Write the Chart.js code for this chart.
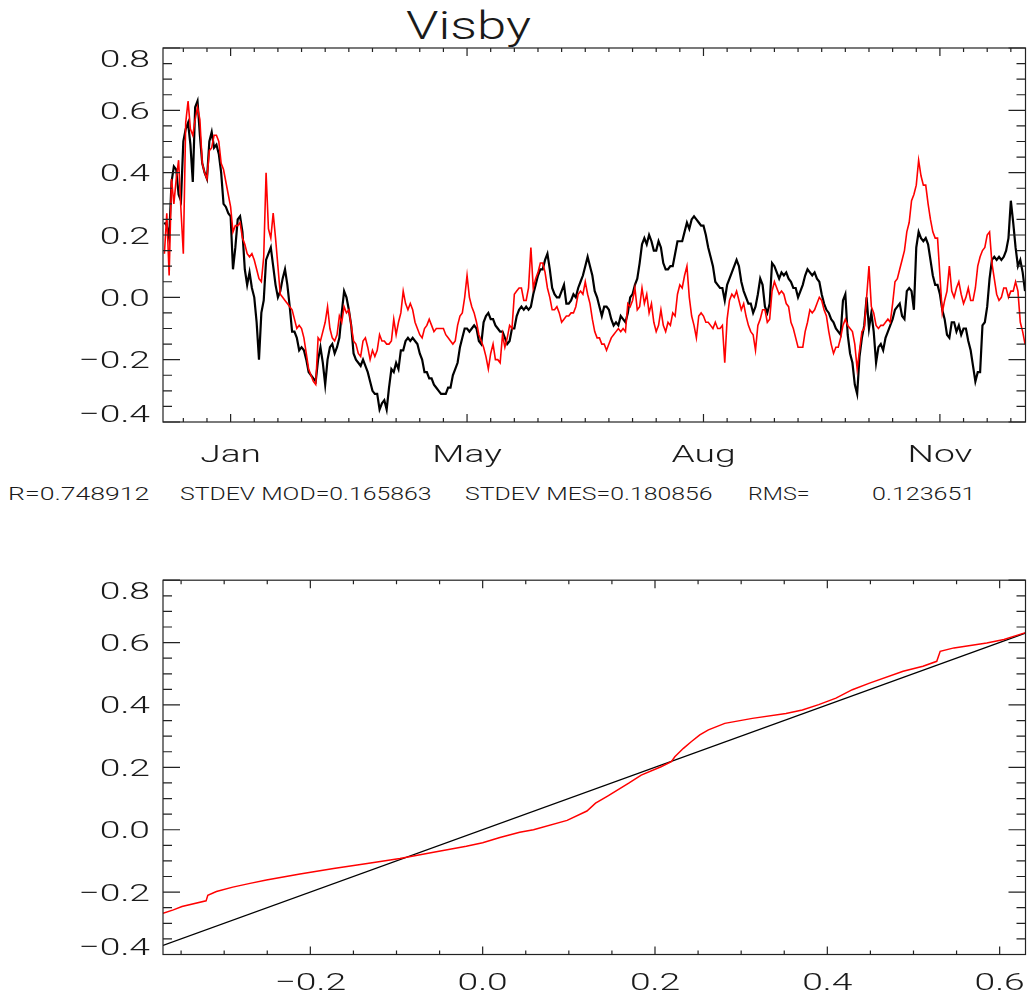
<!DOCTYPE html>
<html>
<head>
<meta charset="utf-8">
<title>Visby</title>
<script src="https://cdn.jsdelivr.net/npm/chart.js@4.4.1/dist/chart.umd.min.js"></script>
<style>
  body { margin: 0; background: #fff; width: 1027px; height: 1000px; position: relative; overflow: hidden; }
  canvas { position: absolute; left: 0; }
  #topChart { top: 0; }
  #qqChart { top: 540px; }
  .txt {
    position: absolute;
    white-space: nowrap;
    color: #1a1a1a;
    font-family: Roboto, "DejaVu Sans", sans-serif;
    font-weight: 300;
    transform-origin: left top;
  }
  #title { font-size: 39px; line-height: 39px; top: 7px; }
  .stat { font-size: 18px; line-height: 18px; top: 485px; }
</style>
</head>
<body>
<div id="title" class="txt">Visby</div>
<canvas id="topChart" width="1027" height="480"></canvas>
<div id="stats"></div>
<canvas id="qqChart" width="1027" height="460"></canvas>

<script>
// days counted from the "Jan" tick, one reading per day
const firstDay = -28;

// black curve
const measured = [
  0.24, 0.23, 0.19, 0.37, 0.42, 0.41, 0.33, 0.31, 0.50, 0.54,
  0.56, 0.49, 0.37, 0.61, 0.63, 0.52, 0.43, 0.40, 0.38, 0.50,
  0.53, 0.48, 0.49, 0.46, 0.40, 0.30, 0.29, 0.27, 0.26, 0.09,
  0.16, 0.25, 0.26, 0.21, 0.09, 0.04, 0.08, 0.03, 0.00, -0.08,
  -0.20, -0.05, -0.01, 0.12, 0.14, 0.16, 0.10, 0.04, 0.00, 0.02,
  0.06, 0.09, 0.04, -0.03, -0.11, -0.11, -0.13, -0.17, -0.16, -0.17,
  -0.20, -0.24, -0.25, -0.26, -0.27, -0.20, -0.16, -0.21, -0.28, -0.20,
  -0.16, -0.15, -0.18, -0.16, -0.13, -0.05, 0.02, 0.00, -0.04, -0.09,
  -0.18, -0.20, -0.21, -0.22, -0.20, -0.22, -0.24, -0.27, -0.30, -0.31,
  -0.31, -0.36, -0.34, -0.33, -0.36, -0.29, -0.23, -0.24, -0.21, -0.23,
  -0.17, -0.17, -0.14, -0.13, -0.14, -0.13, -0.14, -0.15, -0.18, -0.20,
  -0.24, -0.24, -0.26, -0.26, -0.28, -0.29, -0.30, -0.31, -0.31, -0.31,
  -0.29, -0.29, -0.25, -0.23, -0.21, -0.16, -0.13, -0.10, -0.10, -0.11,
  -0.10, -0.09, -0.10, -0.14, -0.15, -0.08, -0.06, -0.05, -0.07, -0.07,
  -0.09, -0.10, -0.11, -0.11, -0.13, -0.15, -0.14, -0.10, -0.10, -0.06,
  -0.04, -0.03, -0.04, -0.03, -0.04, -0.03, 0.01, 0.04, 0.07, 0.09,
  0.09, 0.12, 0.14, 0.09, 0.03, 0.01, 0.00, 0.00, 0.02, 0.04,
  -0.02, -0.02, -0.01, 0.01, 0.00, 0.03, 0.05, 0.07, 0.10, 0.13,
  0.10, 0.07, 0.02, 0.00, -0.03, -0.06, -0.03, -0.03, -0.04, -0.07,
  -0.09, -0.08, -0.09, -0.06, -0.07, -0.08, -0.05, 0.00, 0.01, 0.04,
  0.06, 0.11, 0.17, 0.19, 0.17, 0.20, 0.18, 0.15, 0.15, 0.18,
  0.16, 0.11, 0.09, 0.09, 0.10, 0.10, 0.14, 0.18, 0.18, 0.18,
  0.21, 0.24, 0.22, 0.25, 0.26, 0.25, 0.24, 0.23, 0.23, 0.20,
  0.16, 0.13, 0.10, 0.05, 0.04, 0.03, 0.03, -0.01, 0.04, 0.06,
  0.08, 0.10, 0.12, 0.10, 0.05, 0.02, 0.00, -0.02, -0.02, -0.05,
  -0.03, 0.01, 0.06, 0.04, -0.03, -0.05, -0.02, 0.11, 0.10, 0.08,
  0.06, 0.08, 0.07, 0.08, 0.06, 0.05, 0.03, 0.03, 0.00, 0.02,
  0.04, 0.07, 0.09, 0.08, 0.07, 0.08, 0.06, 0.05, 0.01, -0.02,
  -0.04, -0.05, -0.07, -0.08, -0.10, -0.11, -0.12, -0.01, 0.01, -0.12,
  -0.18, -0.21, -0.28, -0.31, -0.19, -0.13, -0.09, 0.00, -0.10, -0.05,
  -0.11, -0.21, -0.16, -0.15, -0.17, -0.13, -0.11, -0.09, -0.07, -0.04,
  -0.03, -0.02, -0.06, -0.07, 0.02, 0.03, 0.02, -0.04, 0.16, 0.21,
  0.19, 0.18, 0.19, 0.17, 0.12, 0.07, 0.04, 0.04, 0.01, -0.04,
  -0.07, -0.12, -0.13, -0.08, -0.08, -0.11, -0.09, -0.12, -0.10, -0.10,
  -0.14, -0.17, -0.22, -0.27, -0.24, -0.24, -0.09, -0.08, -0.03, 0.06,
  0.12, 0.13, 0.12, 0.13, 0.12, 0.13, 0.15, 0.19, 0.31, 0.24,
  0.16, 0.10, 0.12, 0.08, 0.02
];

// red curve
const model = [
  0.14, 0.27, 0.07, 0.38, 0.30, 0.38, 0.44, 0.28, 0.14, 0.56,
  0.63, 0.54, 0.52, 0.57, 0.61, 0.57, 0.43, 0.40, 0.38, 0.47,
  0.48, 0.52, 0.52, 0.50, 0.43, 0.41, 0.37, 0.33, 0.29, 0.21,
  0.23, 0.23, 0.24, 0.19, 0.17, 0.14, 0.13, 0.14, 0.12, 0.09,
  0.06, 0.05, 0.13, 0.40, 0.22, 0.19, 0.27, 0.19, 0.10, 0.01,
  0.00, -0.01, -0.02, -0.03, -0.04, -0.07, -0.10, -0.09, -0.10, -0.13,
  -0.18, -0.23, -0.25, -0.27, -0.28, -0.13, -0.14, -0.11, -0.08, -0.03,
  -0.10, -0.13, -0.14, -0.12, -0.06, -0.08, -0.03, -0.05, -0.04, -0.09,
  -0.14, -0.15, -0.18, -0.19, -0.14, -0.13, -0.16, -0.20, -0.17, -0.19,
  -0.17, -0.12, -0.14, -0.14, -0.15, -0.15, -0.14, -0.07, -0.12, -0.08,
  -0.05, 0.02, -0.02, -0.04, -0.02, -0.04, -0.08, -0.10, -0.12, -0.13,
  -0.10, -0.09, -0.07, -0.09, -0.11, -0.10, -0.10, -0.10, -0.10, -0.12,
  -0.13, -0.14, -0.15, -0.14, -0.09, -0.06, -0.05, 0.00, 0.07, 0.00,
  -0.03, -0.05, -0.08, -0.12, -0.14, -0.16, -0.19, -0.23, -0.18, -0.15,
  -0.20, -0.20, -0.21, -0.12, -0.16, -0.13, -0.09, -0.10, 0.01, 0.02,
  0.03, 0.03, -0.01, -0.01, 0.03, 0.16, 0.03, 0.06, 0.08, 0.11,
  0.11, 0.08, 0.03, 0.00, -0.04, -0.04, -0.03, -0.05, -0.08, -0.07,
  -0.06, -0.06, -0.05, -0.05, -0.03, 0.01, 0.02, 0.01, 0.05, 0.01,
  -0.02, -0.07, -0.11, -0.13, -0.13, -0.15, -0.15, -0.17, -0.15, -0.13,
  -0.12, -0.11, -0.10, -0.11, -0.10, -0.11, -0.02, -0.03, -0.01, 0.03,
  -0.04, -0.03, 0.03, -0.02, 0.01, -0.05, -0.02, -0.08, -0.11, -0.09,
  -0.04, -0.09, -0.11, -0.08, -0.09, -0.05, -0.06, 0.01, 0.04, 0.03,
  0.07, 0.10, 0.00, -0.06, -0.09, -0.13, -0.06, -0.05, -0.06, -0.08,
  -0.08, -0.09, -0.10, -0.08, -0.10, -0.10, -0.09, -0.21, -0.07, -0.01,
  0.01, 0.00, 0.02, -0.01, -0.04, -0.02, -0.06, -0.09, -0.11, -0.12,
  -0.17, -0.09, -0.07, -0.04, -0.04, -0.08, -0.07, 0.02, 0.05, 0.03,
  0.01, 0.02, 0.01, -0.02, -0.03, -0.08, -0.10, -0.13, -0.16, -0.16,
  -0.16, -0.11, -0.08, -0.04, -0.05, -0.04, -0.02, 0.00, -0.01, -0.04,
  -0.06, -0.11, -0.15, -0.18, -0.16, -0.16, -0.13, -0.09, -0.07, -0.09,
  -0.10, -0.11, -0.15, -0.23, -0.17, -0.11, -0.10, 0.00, 0.10, -0.03,
  -0.05, -0.09, -0.10, -0.09, -0.09, -0.08, -0.07, -0.08, -0.02, 0.05,
  0.06, 0.09, 0.12, 0.15, 0.21, 0.24, 0.31, 0.33, 0.36, 0.44,
  0.39, 0.36, 0.36, 0.30, 0.25, 0.21, 0.19, 0.19, 0.07, -0.05,
  -0.01, 0.02, 0.10, 0.02, 0.00, 0.03, 0.05, 0.01, -0.02, 0.00,
  0.03, -0.01, -0.01, 0.03, 0.10, 0.13, 0.15, 0.16, 0.20, 0.21,
  0.11, 0.06, 0.01, -0.01, 0.00, 0.03, 0.03, 0.00, 0.02, 0.02,
  0.05, 0.02, -0.08, -0.11, -0.15
];

const monthTickDays = [0, 100, 200, 300];
const monthTickLabels = ["Jan", "May", "Aug", "Nov"];
const levelTicks = [-0.4, -0.2, 0, 0.2, 0.4, 0.6, 0.8];
const levelTickLabels = ["\u22120.4", "\u22120.2", "0.0", "0.2", "0.4", "0.6", "0.8"];

// quantile-quantile curve (red) and 1:1 line (black)
const qqMeasured = [
  -0.371, -0.359, -0.349, -0.321, -0.319, -0.309, -0.290, -0.270, -0.251, -0.212,
  -0.173, -0.134, -0.096, -0.057, -0.019, 0.000, 0.020, 0.043, 0.059, 0.098,
  0.121, 0.131, 0.145, 0.170, 0.184, 0.207, 0.219, 0.223, 0.233, 0.242,
  0.252, 0.262, 0.281, 0.313, 0.352, 0.371, 0.390, 0.410, 0.429, 0.449,
  0.488, 0.511, 0.527, 0.531, 0.547, 0.585, 0.605, 0.630
];
const qqModel = [
  -0.268, -0.257, -0.246, -0.228, -0.210, -0.198, -0.184, -0.172, -0.161, -0.142,
  -0.124, -0.108, -0.092, -0.072, -0.053, -0.042, -0.025, -0.008, 0.000, 0.030,
  0.060, 0.085, 0.108, 0.150, 0.175, 0.202, 0.218, 0.234, 0.261, 0.282,
  0.304, 0.320, 0.341, 0.357, 0.373, 0.384, 0.401, 0.422, 0.449, 0.470,
  0.508, 0.524, 0.540, 0.572, 0.583, 0.599, 0.610, 0.632
];
const diagonalX = [-0.371, 0.630];
const diagonalY = [-0.371, 0.630];
const qqTicks = [-0.2, 0, 0.2, 0.4, 0.6];
const qqTickLabels = ["\u22120.2", "0.0", "0.2", "0.4", "0.6"];

const statTexts = ["R=0.748912", "STDEV MOD=0.165863", "STDEV MES=0.180856", "RMS=", "0.123651"];

// ---- look ----
const stretch = 1.55;
const axisFont = '300 24px Roboto, "DejaVu Sans", sans-serif';
const inkColor = "#1a1a1a";

function steps(from, to, step) {
  const out = [];
  const n = Math.round((to - from) / step);
  for (let i = 0; i <= n; i++) out.push(from + i * step);
  return out;
}
function isMajor(v, majors) {
  return majors.some((m) => Math.abs(m - v) < 1e-6);
}
function stretchedText(ctx, text, x, y, align) {
  ctx.save();
  ctx.scale(stretch, 1);
  ctx.textAlign = align;
  ctx.fillText(text, x / stretch, y);
  ctx.restore();
}

// IDL-like frame: box, inward ticks on all four sides, labels
const idlFrame = {
  id: "idlFrame",
  afterDatasetsDraw(chart, args, opts) {
    const { ctx, chartArea: a } = chart;
    const xs = chart.scales.x;
    const ys = chart.scales.y;
    ctx.save();
    ctx.strokeStyle = "#222";
    ctx.lineWidth = 1.2;
    ctx.strokeRect(a.left, a.top, a.right - a.left, a.bottom - a.top);

    ctx.beginPath();
    steps(opts.xMinor[0], opts.xMinor[1], opts.xMinor[2]).forEach((v) => {
      const px = xs.getPixelForValue(v);
      const len = isMajor(v, opts.xMajor) ? 8 : 4;
      ctx.moveTo(px, a.bottom); ctx.lineTo(px, a.bottom - len);
      ctx.moveTo(px, a.top); ctx.lineTo(px, a.top + len);
    });
    steps(-0.4, 0.8, 0.05).forEach((v) => {
      const py = ys.getPixelForValue(v);
      const len = isMajor(v, levelTicks) ? 17 : 9;
      ctx.moveTo(a.left, py); ctx.lineTo(a.left + len, py);
      ctx.moveTo(a.right, py); ctx.lineTo(a.right - len, py);
    });
    ctx.stroke();

    ctx.fillStyle = inkColor;
    ctx.font = axisFont;
    ctx.textBaseline = "alphabetic";
    levelTicks.forEach((v, i) => {
      let py = ys.getPixelForValue(v);
      py = Math.min(Math.max(py, a.top + 10), a.bottom - 8.5);
      stretchedText(ctx, levelTickLabels[i], 150, py + 8.5, "right");
    });
    opts.xMajor.forEach((v, i) => {
      stretchedText(ctx, opts.xLabels[i], xs.getPixelForValue(v), a.bottom + opts.labelGap, "center");
    });
    ctx.restore();
  },
};

const hiddenAxis = {
  grid: { display: false, drawTicks: false },
  border: { display: false },
  ticks: { display: false },
};

const days = measured.map((_, i) => firstDay + i);

new Chart(document.getElementById("topChart"), {
  type: "line",
  data: {
    datasets: [
      {
        label: "MES",
        data: days.map((d, i) => ({ x: d, y: measured[i] })),
        borderColor: "#000000",
        borderWidth: 2.2,
        order: 1,
      },
      {
        label: "MOD",
        data: days.map((d, i) => ({ x: d, y: model[i] })),
        borderColor: "#ff0000",
        borderWidth: 1.6,
        order: 0,
      },
    ],
  },
  options: {
    responsive: false,
    animation: false,
    elements: { point: { radius: 0 }, line: { tension: 0 } },
    layout: { padding: { left: 0, right: 1.5, top: 48, bottom: 0 } },
    plugins: {
      legend: { display: false },
      tooltip: { enabled: false },
      idlFrame: {
        xMinor: [-20, 330, 10],
        xMajor: monthTickDays,
        xLabels: monthTickLabels,
        labelGap: 40,
      },
    },
    scales: {
      x: { type: "linear", min: -28.6, max: 336.2, ...hiddenAxis, afterFit: (s) => { s.height = 58; } },
      y: { type: "linear", min: -0.4, max: 0.8, ...hiddenAxis, afterFit: (s) => { s.width = 163; } },
    },
  },
  plugins: [idlFrame],
});

new Chart(document.getElementById("qqChart"), {
  type: "line",
  data: {
    datasets: [
      {
        label: "1:1",
        data: diagonalX.map((x, i) => ({ x: x, y: diagonalY[i] })),
        borderColor: "#000000",
        borderWidth: 1.3,
        order: 1,
      },
      {
        label: "quantiles",
        data: qqMeasured.map((x, i) => ({ x: x, y: qqModel[i] })),
        borderColor: "#ff0000",
        borderWidth: 1.5,
        order: 0,
      },
    ],
  },
  options: {
    responsive: false,
    animation: false,
    elements: { point: { radius: 0 }, line: { tension: 0 } },
    layout: { padding: { left: 0, right: 1.5, top: 40.2, bottom: 0 } },
    plugins: {
      legend: { display: false },
      tooltip: { enabled: false },
      idlFrame: {
        xMinor: [-0.35, 0.6, 0.05],
        xMajor: qqTicks,
        xLabels: qqTickLabels,
        labelGap: 35.5,
      },
    },
    scales: {
      x: { type: "linear", min: -0.371, max: 0.63, ...hiddenAxis, afterFit: (s) => { s.height = 45.5; } },
      y: { type: "linear", min: -0.4, max: 0.8, ...hiddenAxis, afterFit: (s) => { s.width = 163; } },
    },
  },
  plugins: [idlFrame],
});

// title and statistics line, stretched like the vector font of the original
const titleDiv = document.getElementById("title");
titleDiv.style.left = (469 - (titleDiv.offsetWidth * 1.35) / 2) + "px";
titleDiv.style.transform = "scaleX(1.35)";

const statLefts = [8, 180, 465, 748, 872];
const statWidths = [142, 252, 248, 62, 103];
const statsDiv = document.getElementById("stats");
statTexts.forEach((t, i) => {
  const el = document.createElement("div");
  el.className = "txt stat";
  el.textContent = t;
  el.style.left = statLefts[i] + "px";
  statsDiv.appendChild(el);
  el.style.transform = "scaleX(" + (statWidths[i] / el.offsetWidth).toFixed(3) + ")";
});
</script>
</body>
</html>
